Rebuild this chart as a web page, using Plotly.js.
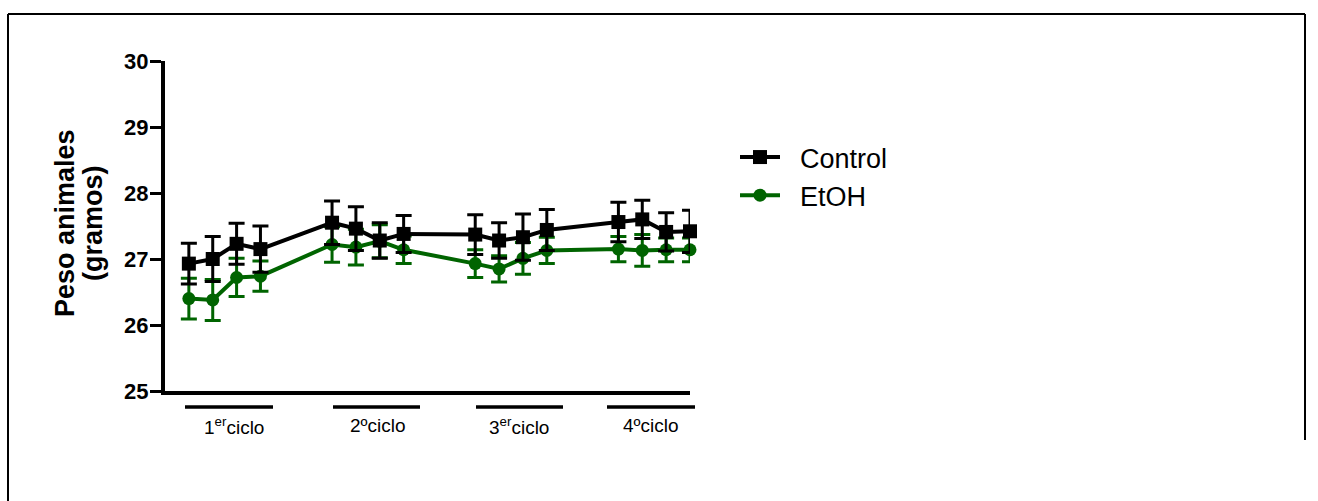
<!DOCTYPE html>
<html>
<head>
<meta charset="utf-8">
<script src="https://cdn.plot.ly/plotly-3.0.1.min.js"></script>
<style>
  html, body { margin: 0; padding: 0; background: #ffffff; }
  #chart { width: 1318px; height: 501px; }
</style>
</head>
<body>
<div id="chart"></div>
<script>
// ---- data ----
const days = [0, 1, 2, 3, 6, 7, 8, 9, 12, 13, 14, 15, 18, 19, 20, 21];
const controlMean = [26.93, 27.00, 27.23, 27.15, 27.55, 27.46, 27.28, 27.38, 27.37, 27.28, 27.33, 27.44, 27.56, 27.60, 27.41, 27.42];
const controlSem  = [0.31, 0.34, 0.31, 0.35, 0.33, 0.33, 0.27, 0.28, 0.30, 0.27, 0.35, 0.31, 0.30, 0.29, 0.29, 0.32];
const etohMean    = [26.40, 26.38, 26.72, 26.74, 27.22, 27.18, 27.27, 27.14, 26.93, 26.85, 27.01, 27.13, 27.15, 27.13, 27.14, 27.14];
const etohSem     = [0.31, 0.31, 0.29, 0.23, 0.27, 0.27, 0.25, 0.21, 0.21, 0.20, 0.24, 0.20, 0.19, 0.24, 0.18, 0.18];
const seriesNames = ['Control', 'EtOH'];
const cycleNum    = ['1', '2', '3', '4'];
const cycleSuffix = ['<sup>er</sup>', 'º', '<sup>er</sup>', 'º'];
const yTicks      = [25, 26, 27, 28, 29, 30];
const yTitleLines = ['Peso animales', '(gramos)'];

const FONT = 'Liberation Sans, Arial, Helvetica, sans-serif';
const GREEN = '#006400';

// plot area in pixels
const L = 165, R = 690, T = 61, B = 391;
const W = 1318, H = 501;
const X0 = -1, X1 = 21;
const px2x = p => (p - L) / (R - L);
const py2y = p => (B - p) / (B - T);

// layout of the cycle bars under the axis (pixel extents) and label centres
const barPx = [[185, 273], [333, 420], [476, 563], [607, 695]];
const labelPx = [234, 378, 519, 651];

const NB = '\u00a0\u00a0';
const traces = [
  {
    x: days, y: etohMean, name: NB + seriesNames[1], type: 'scatter', mode: 'lines+markers',
    cliponaxis: false,
    line: { color: GREEN, width: 4 },
    marker: { color: GREEN, size: 13, symbol: 'circle' },
    error_y: { type: 'data', array: etohSem, visible: true, color: GREEN, thickness: 3, width: 8 }
  },
  {
    x: days, y: controlMean, name: NB + seriesNames[0], type: 'scatter', mode: 'lines+markers',
    cliponaxis: false,
    line: { color: '#000000', width: 4 },
    marker: { color: '#000000', size: 14, symbol: 'square' },
    error_y: { type: 'data', array: controlSem, visible: true, color: '#000000', thickness: 3, width: 8 }
  }
];

const shapes = [];
const annotations = [];

for (let i = 0; i < barPx.length; i++) {
  shapes.push({
    type: 'line', xref: 'paper', yref: 'paper',
    x0: px2x(barPx[i][0]), x1: px2x(barPx[i][1]),
    y0: py2y(407), y1: py2y(407),
    line: { color: '#000000', width: 3.5 }
  });
  annotations.push({
    xref: 'paper', yref: 'paper',
    x: px2x(labelPx[i]), y: py2y(426),
    xanchor: 'center', yanchor: 'middle', showarrow: false,
    text: cycleNum[i] + cycleSuffix[i] + 'ciclo',
    font: { family: FONT, size: 19, color: '#000000' }
  });
}

// y axis title, two lines
const titleX = [65, 93];
for (let i = 0; i < yTitleLines.length; i++) {
  annotations.push({
    xref: 'paper', yref: 'paper', x: px2x(titleX[i]), y: py2y(223),
    xanchor: 'center', yanchor: 'middle', showarrow: false, textangle: -90,
    text: '<b>' + yTitleLines[i] + '</b>',
    font: { family: FONT, size: 27, color: '#000000' }
  });
}

// outer frame
const fL = 8, fT = 14, fR = 1305, fB = 440;
shapes.push({ type: 'line', xref: 'paper', yref: 'paper', x0: px2x(fL), x1: px2x(fR), y0: py2y(fT), y1: py2y(fT), line: { color: '#000000', width: 2 } });
shapes.push({ type: 'line', xref: 'paper', yref: 'paper', x0: px2x(fL), x1: px2x(fL), y0: py2y(fT), y1: py2y(H + 5), line: { color: '#000000', width: 2 } });
shapes.push({ type: 'line', xref: 'paper', yref: 'paper', x0: px2x(fR), x1: px2x(fR), y0: py2y(fT), y1: py2y(fB), line: { color: '#000000', width: 2 } });

const layout = {
  width: W, height: H,
  margin: { l: L, r: W - R, t: T, b: H - B, pad: 0 },
  paper_bgcolor: '#ffffff', plot_bgcolor: '#ffffff',
  showlegend: true,
  legend: {
    x: px2x(735), y: py2y(133), xanchor: 'left', yanchor: 'top',
    font: { family: FONT, size: 27, color: '#000000' },
    traceorder: 'reversed', bgcolor: 'rgba(0,0,0,0)',
    itemwidth: 40
  },
  xaxis: {
    range: [X0, X1], showline: true, linecolor: '#000000', linewidth: 4,
    showgrid: false, zeroline: false, ticks: '', showticklabels: false
  },
  yaxis: {
    range: [25, 30], tickvals: yTicks, ticktext: yTicks.map(String),
    showline: true, linecolor: '#000000', linewidth: 4,
    showgrid: false, zeroline: false,
    ticks: 'outside', ticklen: 11, tickwidth: 3, tickcolor: '#000000',
    ticklabelstandoff: -3,
    tickfont: { family: FONT, size: 22, color: '#000000', weight: 'bold' }
  },
  shapes: shapes,
  annotations: annotations
};

Plotly.newPlot('chart', traces, layout, { displayModeBar: false, staticPlot: true });
</script>
</body>
</html>
